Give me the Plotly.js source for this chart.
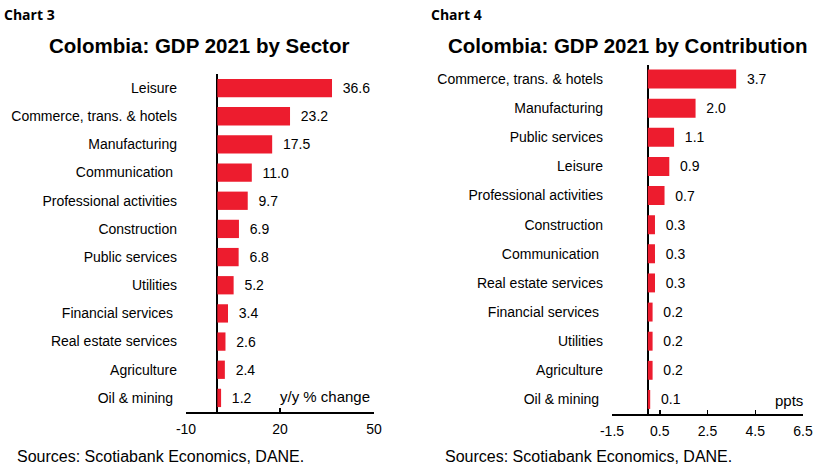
<!DOCTYPE html>
<html>
<head>
<meta charset="utf-8">
<script src="https://cdn.plot.ly/plotly-3.0.1.min.js"></script>
<style>
html,body{margin:0;padding:0;background:#fff;}
#chart{width:828px;height:475px;}
</style>
</head>
<body>
<div id="chart"></div>
<script>
// Chart 3: GDP 2021 by sector (y/y % change)
const sectorCategories = ["Leisure", "Commerce, trans. & hotels", "Manufacturing", "Communication\u00a0", "Professional activities", "Construction", "Public services", "Utilities", "Financial services\u00a0", "Real estate services", "Agriculture", "Oil & mining\u00a0"];
const sectorValues = [36.6, 23.2, 17.5, 11.0, 9.7, 6.9, 6.8, 5.2, 3.4, 2.6, 2.4, 1.2];
const sectorTicks = [-10, 20, 50];

// Chart 4: GDP 2021 by contribution (ppts)
const contribCategories = ["Commerce, trans. & hotels", "Manufacturing", "Public services", "Leisure", "Professional activities", "Construction", "Communication\u00a0", "Real estate services", "Financial services\u00a0", "Utilities", "Agriculture", "Oil & mining\u00a0"];
const contribValues = [3.7, 2.0, 1.1, 0.9, 0.7, 0.3, 0.3, 0.3, 0.2, 0.2, 0.2, 0.1];
const contribTicks = [-1.5, 0.5, 2.5, 4.5, 6.5];

const RED = '#ED1C2E';
const FONT = 'Liberation Sans, Arial, sans-serif';

const barCommon = {
  type: 'bar',
  orientation: 'h',
  marker: {color: RED, line: {width: 0}},
  textposition: 'outside',
  constraintext: 'none',
  cliponaxis: false,
  textfont: {family: FONT, size: 14, color: '#000'},
  hoverinfo: 'skip'
};

const traces = [
  Object.assign({}, barCommon, {
    x: sectorValues, y: sectorCategories,
    texttemplate: '  %{x:.1f}',
    xaxis: 'x', yaxis: 'y'
  }),
  Object.assign({}, barCommon, {
    x: contribValues, y: contribCategories,
    texttemplate: '  %{x:.1f}',
    xaxis: 'x2', yaxis: 'y2'
  })
];

function xAxis(domain, range, ticks, anchor) {
  return {
    domain: domain, range: range, tickvals: ticks,
    ticktext: ticks.map(String),
    anchor: anchor,
    showgrid: false,
    zeroline: true, zerolinecolor: '#000', zerolinewidth: 2,
    showline: true, linecolor: '#000', linewidth: 1.5,
    ticks: 'inside', ticklen: 4, tickwidth: 1.5, tickcolor: '#000',
    ticklabelstandoff: 4,
    tickfont: {family: FONT, size: 14, color: '#000'},
    fixedrange: true
  };
}
function yAxis(domain, anchor) {
  return {
    domain: domain, anchor: anchor, type: 'category',
    autorange: 'reversed',
    showgrid: false, zeroline: false, showline: false,
    ticks: '', ticklabelstandoff: 8,
    tickfont: {family: FONT, size: 14, color: '#000'},
    fixedrange: true
  };
}

const layout = {
  width: 828, height: 475,
  margin: {l: 0, r: 0, t: 0, b: 0},
  paper_bgcolor: '#fff', plot_bgcolor: 'rgba(0,0,0,0)',
  showlegend: false,
  bargap: 0.35,
  xaxis: xAxis([186/828, 374/828], [-10, 50], sectorTicks, 'y'),
  yaxis: yAxis([1 - 412/475, 1 - 74/475], 'x'),
  xaxis2: xAxis([612/828, 803/828], [-1.5, 6.5], contribTicks, 'y2'),
  yaxis2: yAxis([1 - 414/475, 1 - 64.5/475], 'x2'),
  annotations: [
    {text: '<b>Chart 3</b>', xref: 'paper', yref: 'paper', x: 2/828, y: 1 - 15/475, xanchor: 'left', yanchor: 'middle', showarrow: false, font: {family: 'Open Sans, sans-serif', size: 14, color: '#000'}},
    {text: '<b>Chart 4</b>', xref: 'paper', yref: 'paper', x: 429/828, y: 1 - 15/475, xanchor: 'left', yanchor: 'middle', showarrow: false, font: {family: 'Open Sans, sans-serif', size: 14, color: '#000'}},
    {text: '<b>Colombia: GDP 2021 by Sector</b>', xref: 'paper', yref: 'paper', x: 199/828, y: 1 - 46/475, xanchor: 'center', yanchor: 'middle', showarrow: false, font: {family: FONT, size: 20.5, color: '#000'}},
    {text: '<b>Colombia: GDP 2021 by Contribution</b>', xref: 'paper', yref: 'paper', x: 628/828, y: 1 - 46/475, xanchor: 'center', yanchor: 'middle', showarrow: false, font: {family: FONT, size: 20.5, color: '#000'}},
    {text: 'y/y % change', xref: 'paper', yref: 'paper', x: 372/828, y: 1 - 396/475, xanchor: 'right', yanchor: 'middle', showarrow: false, font: {family: FONT, size: 15, color: '#000'}},
    {text: 'ppts', xref: 'paper', yref: 'paper', x: 805/828, y: 1 - 400/475, xanchor: 'right', yanchor: 'middle', showarrow: false, font: {family: FONT, size: 15, color: '#000'}},
    {text: 'Sources: Scotiabank Economics, DANE.', xref: 'paper', yref: 'paper', x: 15/828, y: 1 - 456/475, xanchor: 'left', yanchor: 'middle', showarrow: false, font: {family: FONT, size: 16, color: '#000'}},
    {text: 'Sources: Scotiabank Economics, DANE.', xref: 'paper', yref: 'paper', x: 443/828, y: 1 - 456/475, xanchor: 'left', yanchor: 'middle', showarrow: false, font: {family: FONT, size: 16, color: '#000'}}
  ]
};

Plotly.newPlot('chart', traces, layout, {staticPlot: true, displayModeBar: false});
</script>
</body>
</html>
